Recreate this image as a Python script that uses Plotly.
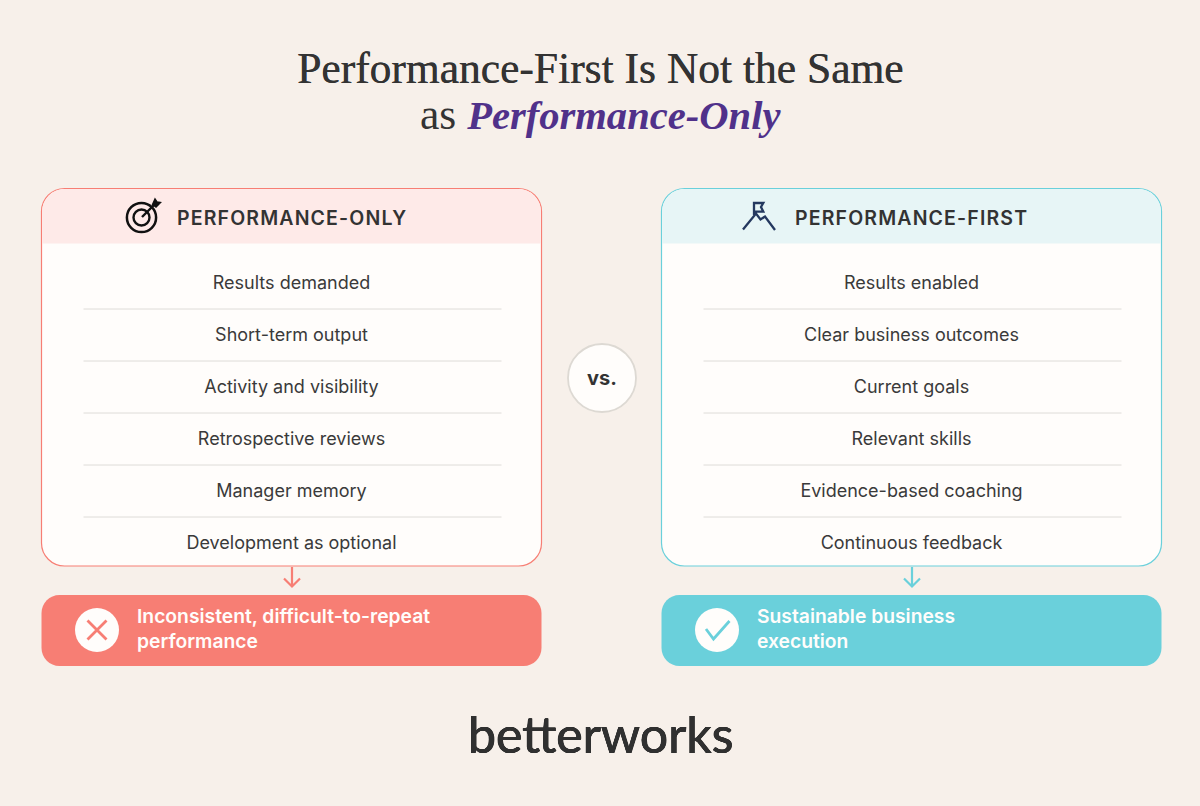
import plotly.graph_objects as go

left_rows = ["Results demanded", "Short-term output", "Activity and visibility",
             "Retrospective reviews", "Manager memory", "Development as optional"]
right_rows = ["Results enabled", "Clear business outcomes", "Current goals",
              "Relevant skills", "Evidence-based coaching", "Continuous feedback"]
left_head = "PERFORMANCE-ONLY"
right_head = "PERFORMANCE-FIRST"
left_out = ["Inconsistent, difficult-to-repeat", "performance"]
right_out = ["Sustainable business", "execution"]

BG = "#F7F0EA"; INK = "#333333"; CORAL = "#F77E74"; TEAL = "#6AD0DB"
SANS = "Inter, Roboto, sans-serif"; SERIF = "Liberation Serif, serif"
K = 0.55
shapes = []


def rrect_path(x0, y0, x1, y1, r, bottom=True):
    c = r * (1 - K)
    top = (f"M{x0},{y0+r} C{x0},{y0+c} {x0+c},{y0} {x0+r},{y0} L{x1-r},{y0} "
           f"C{x1-c},{y0} {x1},{y0+c} {x1},{y0+r} ")
    if bottom:
        return top + (f"L{x1},{y1-r} C{x1},{y1-c} {x1-c},{y1} {x1-r},{y1} L{x0+r},{y1} "
                      f"C{x0+c},{y1} {x0},{y1-c} {x0},{y1-r} Z")
    return top + f"L{x1},{y1} L{x0},{y1} Z"


def rrect(x0, y0, x1, y1, r, fill, line=None, lw=1.2):
    shapes.append(dict(type="path", xref="x", yref="y", layer="below",
                       path=rrect_path(x0, y0, x1, y1, r), fillcolor=fill,
                       line=dict(color=line or fill, width=lw if line else 0)))


def path(d, color, w=2, fill="rgba(0,0,0,0)", layer="above"):
    shapes.append(dict(type="path", xref="x", yref="y", layer=layer, path=d,
                       fillcolor=fill, line=dict(color=color, width=w)))


def circle(cx, cy, r, fill, line=None, w=2, layer="above"):
    shapes.append(dict(type="circle", xref="x", yref="y", layer=layer,
                       x0=cx-r, x1=cx+r, y0=cy-r, y1=cy+r, fillcolor=fill,
                       line=dict(color=line or fill, width=w if line else 0)))


fig = go.Figure()


def card(x0, head, head_fill, accent, rows, out, head_x):
    x1 = x0 + 500
    rrect(x0, 188.5, x1, 566, 23, "#FFFDFB", accent)
    shapes.append(dict(type="path", xref="x", yref="y", layer="below",
                       path=rrect_path(x0+0.6, 189.1, x1-0.6, 243.5, 22.4, bottom=False),
                       fillcolor=head_fill, line=dict(width=0)))
    ys = [283 + 52*i for i in range(len(rows))]
    for y in ys[:-1]:
        shapes.append(dict(type="line", xref="x", yref="y", layer="below", x0=x0+42, x1=x0+460,
                           y0=y+26, y1=y+26, line=dict(color="#DEDCD8", width=1)))
    fig.add_trace(go.Scatter(x=[x0+250]*len(rows), y=[y+1.5 for y in ys], text=rows, mode="text",
                             textposition="middle center",
                             textfont=dict(family=SANS, size=18, color="#3A3A3A"), hoverinfo="skip"))
    fig.add_annotation(x=head_x, y=218, text=f'<span style="letter-spacing:1.15px">{head}</span>',
                       xanchor="left", yanchor="middle", showarrow=False,
                       font=dict(family=SANS, size=19.5, color=INK, weight=600))
    ax = x0 + 250.5
    path(f"M{ax},567 L{ax},586 M{ax-8},578.5 L{ax},586.5 L{ax+8},578.5", accent, 2.2)
    rrect(x0, 595, x1, 666, 18, accent)
    circle(x0+55.5, 630, 22, "#FFFDFB")
    fig.add_trace(go.Scatter(x=[x0+95.5, x0+95.5], y=[618, 643], text=out, mode="text",
                             textposition="middle right",
                             textfont=dict(family=SANS, size=19.3, color="#FFFDFB", weight=600),
                             hoverinfo="skip"))


card(41.5, left_head, "#FEEAE8", CORAL, left_rows, left_out, 175)
card(661.5, right_head, "#E7F5F6", TEAL, right_rows, right_out, 792.5)

# target icon
circle(141.5, 217.5, 14.6, "rgba(0,0,0,0)", "#111111", 2.5)
circle(141.5, 217.5, 8, "rgba(0,0,0,0)", "#111111", 2.4)
path("M142,217 L155,204", "#111111", 2.4)
path("M152.5,204.5 L155,199 L157,202 L160.5,202.5 L156,207 Z", "#111111", 1.4, fill="#111111")
# summit icon
NAVY = "#24385F"
path("M743,229.5 L756,213.5 L760.5,219.5 L765,216.5 L775,230 "
     "M754,215 L754,203 L763.3,203 L761,207 L763.3,211.7 L754,211.7", NAVY, 2.3)
# result glyphs
path("M87.5,620.5 L106.5,639.5 M106.5,620.5 L87.5,639.5", CORAL, 2.8)
path("M706,629 L713.5,639 L729.5,621", TEAL, 2.8)
# vs. badge
circle(602, 378, 34, "#FFFDFB", "#DDD9D3", 1.8)
fig.add_annotation(x=602, y=378, text="vs.", showarrow=False,
                   font=dict(family="Inter, sans-serif", size=20, color=INK, weight=700))
# title
fig.add_annotation(x=600, y=68, text="Performance-First Is Not the Same", showarrow=False,
                   font=dict(family=SERIF, size=43.5, color=INK, shadow="0.4px 0 0 #333333"))
fig.add_annotation(x=600, y=114,
                   text='as <b><i><span style="color:#50318A;font-size:40.6px">Performance-Only</span></i></b>',
                   showarrow=False, font=dict(family=SERIF, size=43.5, color=INK))
# logo
ring = "0.4px 0 0 #303030, -0.4px 0 0 #303030, 0 0.4px 0 #303030, 0 -0.4px 0 #303030"
fig.add_annotation(x=600, y=734, text="betterworks", showarrow=False,
                   font=dict(family="Lato, sans-serif", size=50, color="#303030", shadow=ring))

fig.update_layout(width=1200, height=806, autosize=False, margin=dict(l=0, r=0, t=0, b=0),
                  paper_bgcolor=BG, plot_bgcolor=BG, showlegend=False, shapes=shapes,
                  xaxis=dict(range=[0, 1200], visible=False, fixedrange=True),
                  yaxis=dict(range=[806, 0], visible=False, fixedrange=True))
fig.write_html("out.html", config=dict(displayModeBar=False),
               post_script="document.body.style.margin='0';document.body.style.background='#F7F0EA';")
